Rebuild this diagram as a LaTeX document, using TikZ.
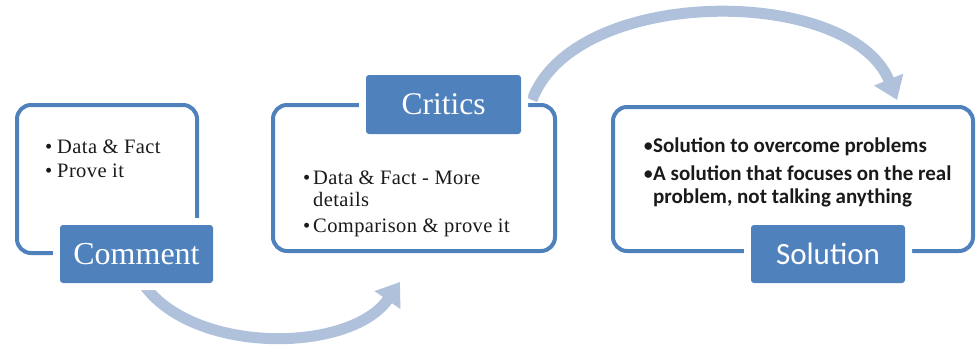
\documentclass[tikz,border=0pt]{standalone}
\usepackage{fontspec}
\setmainfont{Liberation Serif}
\newfontfamily\calibri{Carlito}
\newfontfamily\widserif[LetterSpace=2]{Liberation Serif}
\usetikzlibrary{arrows.meta}
\definecolor{oblue}{HTML}{4F81BD}
\definecolor{larrow}{HTML}{B0C1DC}
\definecolor{txt}{HTML}{1A1A1A}
\newcommand{\sbul}{{\mdseries\textbullet}}
\begin{document}
\begin{tikzpicture}[x=1pt,y=-1pt,
  card/.style={draw=oblue, line width=4pt, fill=white, rounded corners=14pt, inner sep=0pt},
  tag/.style={fill=oblue, text=white, rounded corners=3pt, inner sep=0pt,
    preaction={draw=white, line width=14pt}},
  flow/.style={draw=larrow, line width=11pt, -{Triangle[width=30pt,length=22pt]}},
  serifline/.style={anchor=base west, inner sep=0pt, text=txt, font=\widserif\fontsize{20.5}{24}\selectfont},
  sansline/.style={anchor=base west, inner sep=0pt, text=txt, font=\calibri\bfseries\fontsize{21}{24}\selectfont},
]
\useasboundingbox (0,0) rectangle (976,345);
\fill[white] (0,0) rectangle (976,345);

% arrows
\coordinate (a1s) at (142,282);
\coordinate (a1e) at (400,282);
\coordinate (a2s) at (532,100);
\coordinate (a2e) at (897,100);
\draw[flow] (a1s) .. controls (190,355) and (350,354) .. (a1e);
\draw[flow] (a2s) .. controls (575,-15) and (850,-15) .. (a2e);

% cards
\node[card, minimum width=180pt, minimum height=148pt] (box1) at (107,179) {};
\node[card, minimum width=282pt, minimum height=146pt] (box2) at (414,178) {};
\node[card, minimum width=360pt, minimum height=144pt] (box3) at (793,179) {};

% tags
\node[tag, minimum width=153pt, minimum height=58pt, font=\fontsize{32}{32}\selectfont] (comment) at (136.5,254) {Comment};
\node[tag, minimum width=155pt, minimum height=59pt, font=\fontsize{31.5}{31.5}\selectfont] (critics) at (443.5,104.5) {Critics};
\node[tag, minimum width=154pt, minimum height=58pt, font=\calibri\fontsize{31}{31}\selectfont] (solution) at (828,254) {Solution};

% texts
\node[serifline] (t11) at (45,153) {\makebox[12pt][l]{\textbullet}Data \& Fact};
\node[serifline] (t12) at (45,177) {\makebox[12pt][l]{\textbullet}Prove it};

\node[serifline] (t21) at (303,184) {\makebox[10pt][l]{\textbullet}Data \& Fact - More};
\node[serifline] (t22) at (303,206) {\makebox[10pt][l]{}details};
\node[serifline] (t23) at (303,232) {\makebox[10pt][l]{\textbullet}Comparison \& prove it};

\node[sansline] (t31) at (643,152) {\makebox[10pt][l]{\sbul}Solution to overcome problems};
\node[sansline] (t32) at (643,180) {\makebox[10pt][l]{\sbul}A solution that focuses on the real};
\node[sansline] (t33) at (643,203) {\makebox[10pt][l]{}problem, not talking anything};
\end{tikzpicture}
\end{document}
